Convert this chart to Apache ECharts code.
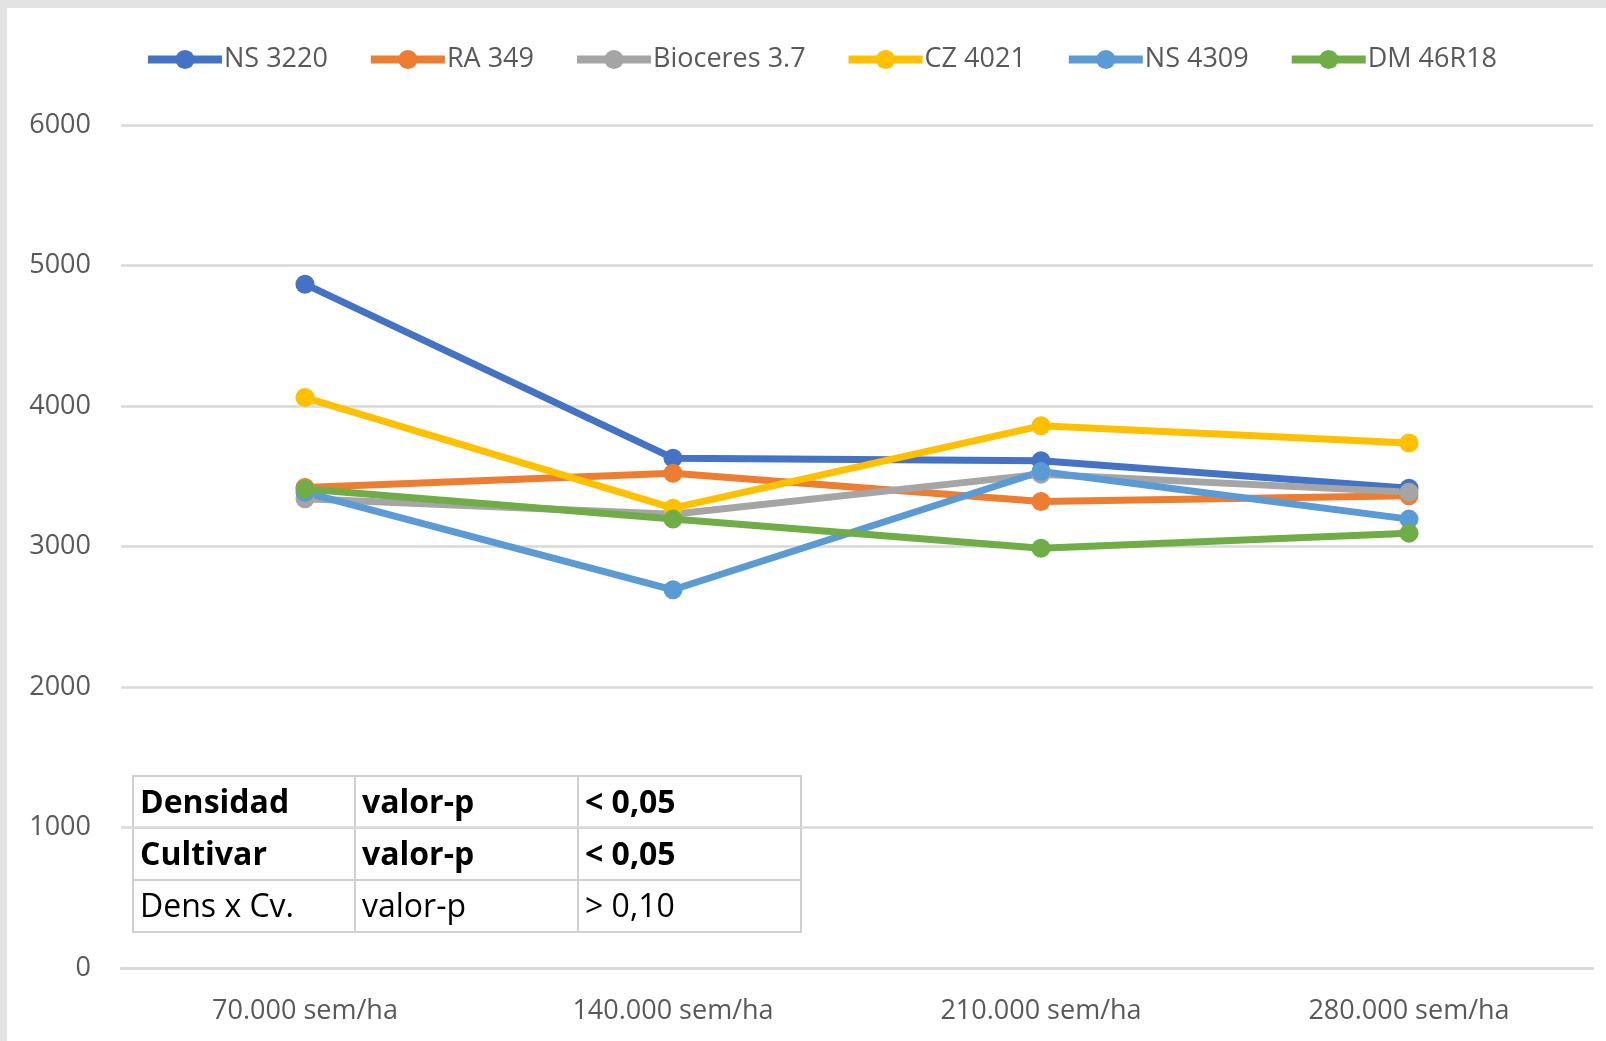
<!DOCTYPE html>
<html>
<head>
<meta charset="utf-8">
<script src="https://cdn.jsdelivr.net/npm/echarts@6/dist/echarts.min.js"></script>
<style>
    html, body { margin: 0; padding: 0; background: #e3e3e3; }
    #paper { position: absolute; left: 7px; top: 8px; width: 1599px; height: 1033px; background: #fff; }
    #chart { position: absolute; left: 0; top: 0; width: 1606px; height: 1041px; }
</style>
</head>
<body>
<div id="paper"></div>
<div id="chart"></div>
<script>
    var categories = ['70.000 sem/ha', '140.000 sem/ha', '210.000 sem/ha', '280.000 sem/ha'];
    var seriesNames = ['NS 3220', 'RA 349', 'Bioceres 3.7', 'CZ 4021', 'NS 4309', 'DM 46R18'];
    var ns3220 = [4867, 3629, 3610, 3415];
    var ra349 = [3420, 3522, 3320, 3361];
    var bioceres37 = [3340, 3230, 3515, 3387];
    var cz4021 = [4060, 3273, 3859, 3736];
    var ns4309 = [3385, 2692, 3534, 3195];
    var dm46r18 = [3410, 3195, 2988, 3095];
    var colors = ['#4472C4', '#ED7D31', '#A5A5A5', '#FFC000', '#5B9BD5', '#70AD47'];

    // little stats table drawn inside the plot
    var tableRows = [
        ['Densidad', 'valor-p', '< 0,05'],
        ['Cultivar', 'valor-p', '< 0,05'],
        ['Dens x Cv.', 'valor-p', '> 0,10']
    ];
    var tableBold = [true, true, false];

    var font = '"Open Sans", "Noto Sans", sans-serif';
    var values = [ns3220, ra349, bioceres37, cz4021, ns4309, dm46r18];

    function tableGraphic() {
        var x0 = 133, y0 = 776, colW = [222, 223, 223], rowH = 52;
        var kids = [{
            type: 'rect', shape: {x: x0, y: y0, width: 668, height: rowH * 3},
            style: {fill: '#fff', stroke: '#d0d0d0', lineWidth: 2}
        }];
        tableRows.forEach(function (row, r) {
            var cx = x0;
            row.forEach(function (txt, c) {
                kids.push({
                    type: 'rect', shape: {x: cx, y: y0 + r * rowH, width: colW[c], height: rowH},
                    style: {fill: 'none', stroke: '#d0d0d0', lineWidth: 2}
                });
                kids.push({
                    type: 'text', x: cx + 7, y: y0 + r * rowH + rowH / 2 + 2,
                    style: {text: txt, fill: '#000', font: (tableBold[r] ? 'bold ' : '') + '32px ' + font,
                            verticalAlign: 'middle'}
                });
                cx += colW[c];
            });
        });
        return [{type: 'group', z: 100, children: kids}];
    }

    var chart = echarts.init(document.getElementById('chart'));
    chart.setOption({
        backgroundColor: 'transparent',
        animation: false,
        color: colors,
        textStyle: {fontFamily: font},
        legend: {
            top: 41, left: 139,
            itemWidth: 74, itemHeight: 24, itemGap: 39,
            lineStyle: {width: 8},
            textStyle: {fontSize: 27, color: '#595959', fontFamily: font, padding: [0, 0, 0, -3]},
            data: seriesNames
        },
        grid: {left: 121, right: 13, top: 125, bottom: 73, containLabel: false},
        xAxis: {
            type: 'category', data: categories, boundaryGap: true,
            axisLine: {show: true, lineStyle: {color: '#d9d9d9', width: 2.5}},
            axisTick: {show: false},
            axisLabel: {fontSize: 27, color: '#595959', margin: 30, fontFamily: font}
        },
        yAxis: {
            type: 'value', min: 0, max: 6000, interval: 1000,
            axisLine: {show: false}, axisTick: {show: false},
            axisLabel: {fontSize: 27, color: '#595959', margin: 30, fontFamily: font,
                        formatter: function (v) { return String(v); }},
            splitLine: {lineStyle: {color: '#d9d9d9', width: 2.5}}
        },
        series: seriesNames.map(function (name, i) {
            return {
                name: name, type: 'line', data: values[i],
                symbol: 'circle', symbolSize: 19,
                lineStyle: {width: 7, color: colors[i]},
                itemStyle: {color: colors[i]}
            };
        }),
        graphic: tableGraphic()
    });
</script>
</body>
</html>
